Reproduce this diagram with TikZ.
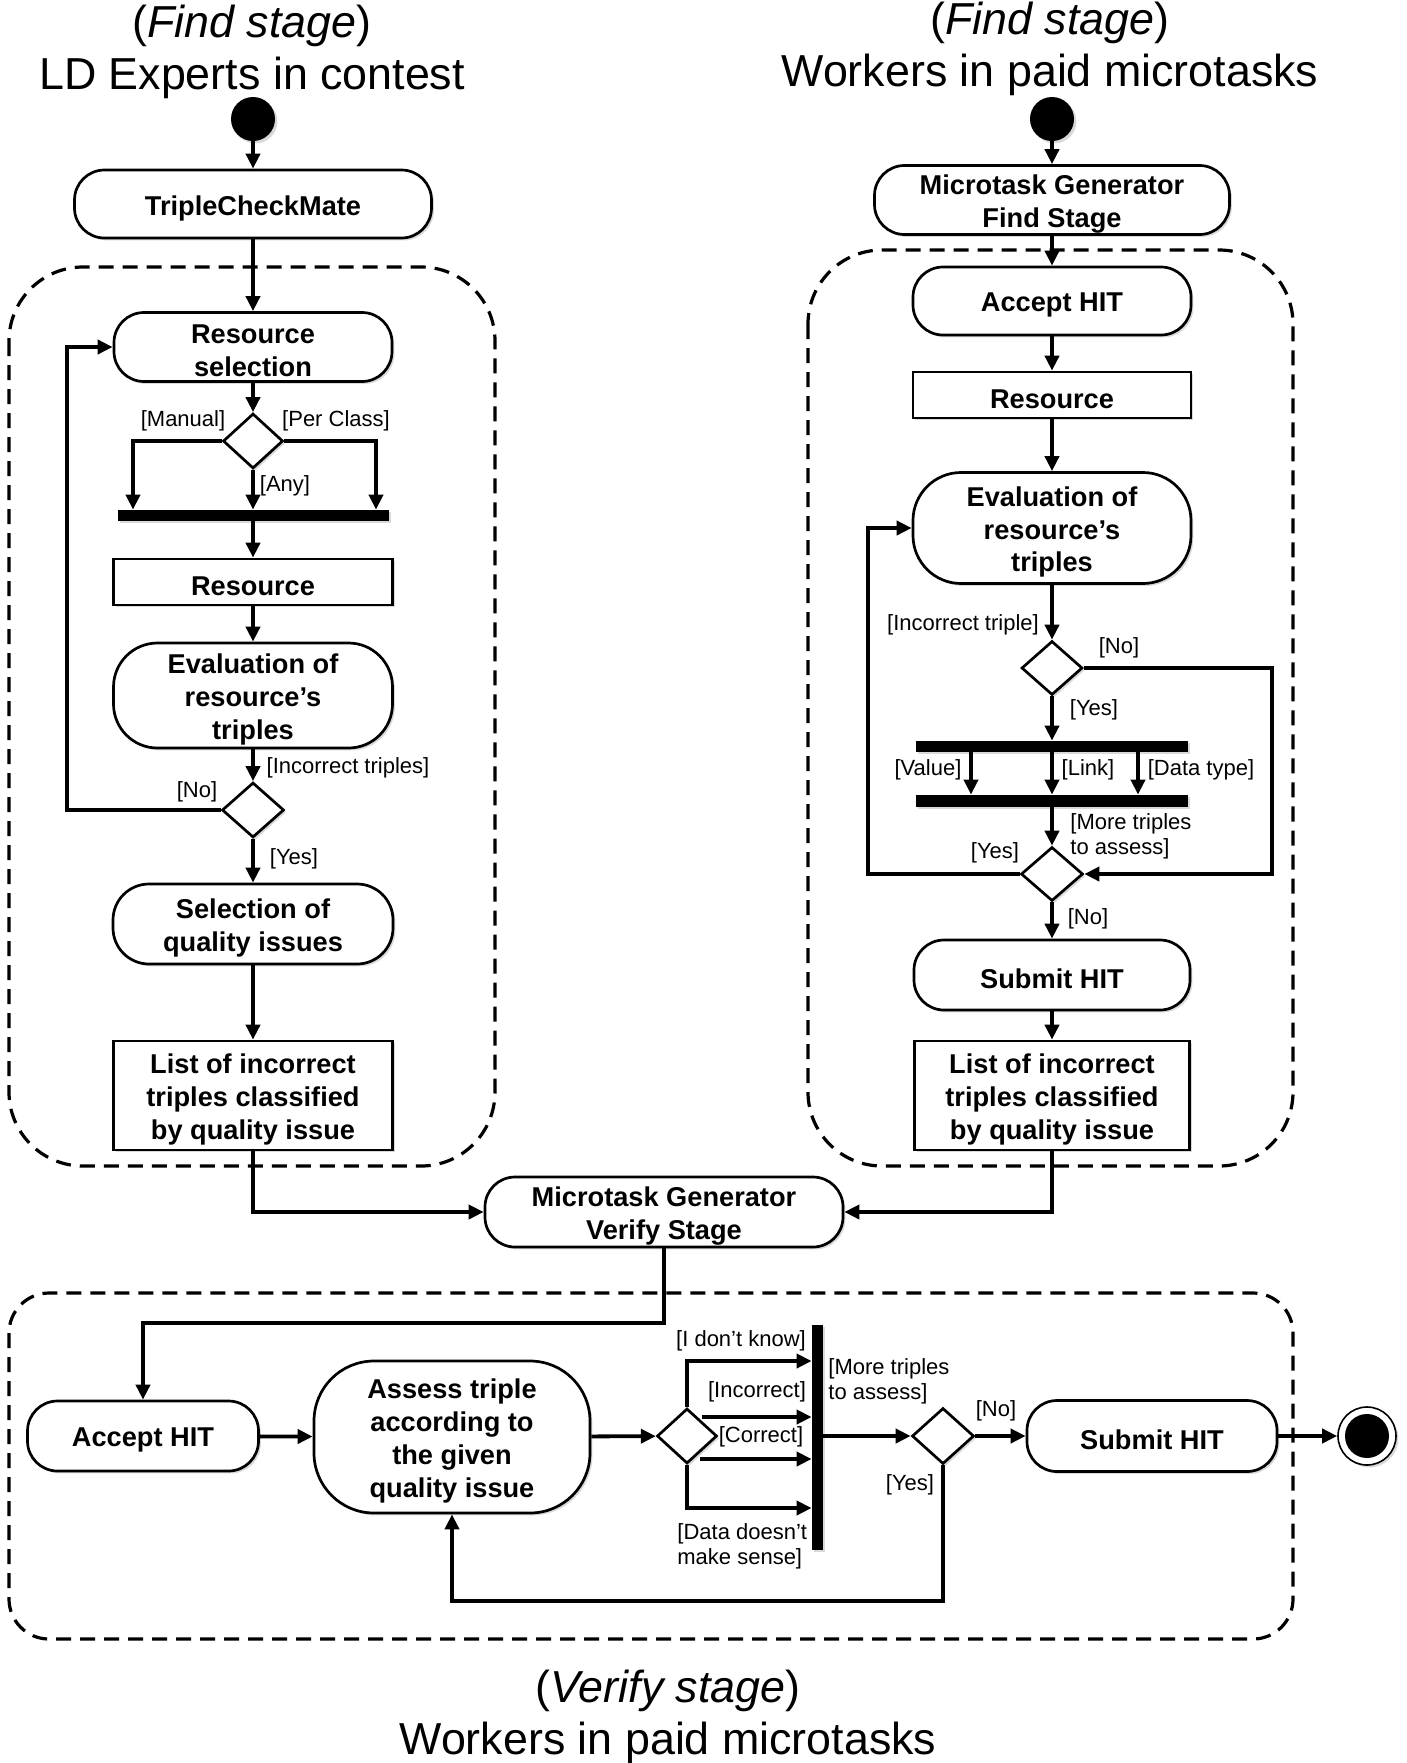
\documentclass[tikz,border=0pt]{standalone}
\usepackage{fontspec}
\setmainfont{Liberation Sans}
\usetikzlibrary{arrows.meta,shapes.geometric,shadows}
\begin{document}
\begin{tikzpicture}[x=0.5pt,y=-0.5pt,
  shad/.style={drop shadow={shadow xshift=1.2pt,shadow yshift=-1.2pt,opacity=0.3}},
  txt/.style={inner sep=0pt,align=center,font=\bfseries\fontsize{13.6}{16.4}\selectfont,yshift=-2pt},
  t/.style={label={[txt]center:{#1}}},
  base/.style={draw,line width=1.35pt,fill=white,inner sep=0pt,shad},
  act/.style={base,rounded corners=#1},
  act/.default=15pt,
  obj/.style={base},
  dec/.style={draw,line width=1.35pt,fill=white,diamond,inner sep=0pt,shad},
  barnode/.style={fill=black,inner sep=0pt,shad},
  lbl/.style={font=\fontsize{11}{12.5}\selectfont,inner sep=0pt,align=left},
  arr/.style={line width=1.9pt,-{Triangle[length=7.5pt,width=7pt]}},
  region/.style={draw,line width=1.6pt,dash pattern=on 7.5pt off 4.5pt},
  head/.style={font=\fontsize{22.4}{26}\selectfont,inner sep=0pt,align=center},
  startnode/.style={circle,fill=black,minimum size=22pt,inner sep=0pt,shad}
]
\useasboundingbox (0,0) rectangle (1407,1763);

% regions
\draw[region,rounded corners=37pt] (9,267) rectangle (495,1166);
\draw[region,rounded corners=37pt] (808,250) rectangle (1293,1166);
\draw[region,rounded corners=20pt] (9,1293) rectangle (1293,1639);

% headings
\node[head] (hl1) at (252,25.5) {(\textit{Find stage})};
\node[head] (hl2) at (252,77.5) {LD Experts in contest};
\node[head] (hr1) at (1050,23) {(\textit{Find stage})};
\node[head] (hr2) at (1050,74.5) {Workers in paid microtasks};
\node[head] (hb1) at (668,1690.5) {(\textit{Verify stage})};
\node[head] (hb2) at (668,1742.5) {Workers in paid microtasks};

% ---------- left column ----------
\node[startnode] (s1) at (253,119) {};
\node[act, minimum width=178.5pt, minimum height=34pt, t={TripleCheckMate}] (tcm) at (253,204) {};
\node[act, minimum width=139pt, minimum height=34.5pt, t={Resource\\selection}] (rsel) at (253,347) {};
\node[dec, minimum width=30pt, minimum height=27.5pt] (d1) at (253,441) {};
\node[barnode, minimum width=135.5pt, minimum height=5.5pt] (bar1) at (253,515.5) {};
\node[obj, minimum width=139.5pt, minimum height=23pt, t={Resource}] (res) at (253,582) {};
\node[act=22pt, minimum width=139.5pt, minimum height=52.5pt, t={Evaluation of\\resource’s\\triples}] (eval) at (253,695.5) {};
\node[dec, minimum width=31pt, minimum height=27.5pt] (d2) at (253,810) {};
\node[act=18pt, minimum width=140pt, minimum height=40pt, t={Selection of\\quality issues}] (sel) at (253,924) {};
\node[obj, minimum width=139.5pt, minimum height=54.5pt, t={List of incorrect\\triples classified\\by quality issue}] (list) at (253,1095.5) {};

\coordinate (xL1) at (133,0);
\coordinate (xR1) at (376,0);
\coordinate (xLoop) at (67,0);

\draw[arr] (s1) -- (tcm);
\draw[arr] (tcm) -- (rsel);
\draw[arr] (rsel) -- (d1);
\draw[arr] (d1.west) -| (xL1 |- bar1.north);
\draw[arr] (d1.east) -| (xR1 |- bar1.north);
\draw[arr] (d1.south) -- (bar1.north);
\draw[arr] (bar1) -- (res);
\draw[arr] (res) -- (eval);
\draw[arr] (eval) -- (d2);
\draw[arr] (d2.west) -| (xLoop |- rsel.west) -- (rsel.west);
\draw[arr] (d2) -- (sel);
\draw[arr] (sel) -- (list);

\node[lbl] (lman) at (183,421) {[Manual]};
\node[lbl] (lper) at (336,421) {[Per Class]};
\node[lbl] (lany) at (285,486) {[Any]};
\node[lbl] (linc) at (348,768) {[Incorrect triples]};
\node[lbl] (lno1) at (197,792) {[No]};
\node[lbl] (lyes1) at (294,859) {[Yes]};

% ---------- right column ----------
\node[startnode] (s2) at (1052,119) {};
\node[act, minimum width=177.5pt, minimum height=34.5pt, t={Microtask Generator\\Find Stage}] (mgf) at (1052,200) {};
\node[act, minimum width=139pt, minimum height=34pt, t={Accept HIT}] (acc) at (1052,301) {};
\node[obj, minimum width=139pt, minimum height=23pt, t={Resource}] (res2) at (1052,395) {};
\node[act=24pt, minimum width=139pt, minimum height=55.5pt, t={Evaluation of\\resource’s\\triples}] (eval2) at (1052,528) {};
\node[dec, minimum width=30.5pt, minimum height=27pt] (d3) at (1052,668) {};
\node[barnode, minimum width=136pt, minimum height=5.5pt] (barA) at (1052,746.5) {};
\node[barnode, minimum width=136pt, minimum height=6pt] (barB) at (1052,801) {};
\node[dec, minimum width=31pt, minimum height=27pt] (d4) at (1052,874) {};
\node[act, minimum width=138pt, minimum height=35pt, t={Submit HIT}] (sub) at (1052,975) {};
\node[obj, minimum width=137.5pt, minimum height=54.5pt, t={List of incorrect\\triples classified\\by quality issue}] (list2) at (1052,1095.5) {};

\coordinate (xa) at (971,0);
\coordinate (xc) at (1138,0);
\coordinate (xR2) at (1272,0);
\coordinate (xL2) at (868,0);

\draw[arr] (s2) -- (mgf);
\draw[arr] (mgf) -- (acc);
\draw[arr] (acc) -- (res2);
\draw[arr] (res2) -- (eval2);
\draw[arr] (eval2) -- (d3);
\draw[arr] (d3) -- (barA);
\draw[arr] (d3.east) -| (xR2 |- d4.east) -- (d4.east);
\draw[arr] (barA.south -| xa) -- (barB.north -| xa);
\draw[arr] (barA) -- (barB);
\draw[arr] (barA.south -| xc) -- (barB.north -| xc);
\draw[arr] (barB) -- (d4);
\draw[arr] (d4.west) -| (xL2 |- eval2.west) -- (eval2.west);
\draw[arr] (d4) -- (sub);
\draw[arr] (sub) -- (list2);

\node[lbl] (rinc) at (963,625) {[Incorrect triple]};
\node[lbl] (rno1) at (1119,648) {[No]};
\node[lbl] (ryes1) at (1094,710) {[Yes]};
\node[lbl] (rval) at (928,770) {[Value]};
\node[lbl] (rlink) at (1088,770) {[Link]};
\node[lbl] (rdt) at (1201,770) {[Data type]};
\node[lbl, anchor=west] (rmore) at (1070,836) {[More triples\\to assess]};
\node[lbl] (ryes2) at (995,853) {[Yes]};
\node[lbl] (rno2) at (1088,919) {[No]};

% ---------- middle ----------
\node[act, minimum width=179pt, minimum height=35pt, t={Microtask Generator\\Verify Stage}] (mgv) at (664,1212) {};
\coordinate (yA) at (0,1323);
\draw[arr] (list.south) |- (mgv.west);
\draw[arr] (list2.south) |- (mgv.east);

% ---------- bottom ----------
\node[act, minimum width=115.5pt, minimum height=35pt, t={Accept HIT}] (acc2) at (143,1436) {};
\node[act=30pt, minimum width=138pt, minimum height=76pt, t={Assess triple\\according to\\the given\\quality issue}] (assess) at (452,1437) {};
\node[dec, minimum width=30pt, minimum height=27.5pt] (d5) at (687,1436) {};
\node[barnode, minimum width=5.5pt, minimum height=112.5pt] (vbar) at (817.5,1437.5) {};
\node[dec, minimum width=31pt, minimum height=28pt] (d6) at (943,1436) {};
\node[act, minimum width=125pt, minimum height=35.5pt, t={Submit HIT}] (sub2) at (1152,1436) {};
\node[circle, draw, line width=0.8pt, fill=white, minimum size=29pt, inner sep=0pt, shad] (endc) at (1367,1436) {};
\node[circle, fill=black, minimum size=22pt, inner sep=0pt] (endin) at (endc) {};

\draw[arr] (mgv.south) -- (mgv.south |- yA) -| (acc2.north);
\draw[arr] (acc2) -- (assess);
\draw[arr] (assess) -- (d5);

\coordinate (yIdk) at (0,1361);
\coordinate (cInc) at (702,1417);
\coordinate (cCor) at (700,1459);
\coordinate (yDds) at (0,1508);
\coordinate (yY) at (0,1601);

\draw[arr] (d5.north) |- (vbar.west |- yIdk);
\draw[arr] (cInc) -- (vbar.west |- cInc);
\draw[arr] (cCor) -- (vbar.west |- cCor);
\draw[arr] (d5.south) |- (vbar.west |- yDds);
\draw[arr] (vbar.east |- d6.west) -- (d6.west);
\draw[arr] (d6) -- (sub2);
\draw[arr] (d6.south) -- (d6.south |- yY) -| (assess.south);
\draw[arr] (sub2) -- (endc);

\node[lbl] (bidk) at (741,1341) {[I don’t know]};
\node[lbl] (binc) at (757,1392) {[Incorrect]};
\node[lbl] (bcor) at (761,1437) {[Correct]};
\node[lbl, anchor=west] (bdds) at (677,1546) {[Data doesn’t\\make sense]};
\node[lbl, anchor=west] (bmore) at (828,1381) {[More triples\\to assess]};
\node[lbl] (bno) at (996,1411) {[No]};
\node[lbl] (byes) at (910,1485) {[Yes]};

\end{tikzpicture}
\end{document}
